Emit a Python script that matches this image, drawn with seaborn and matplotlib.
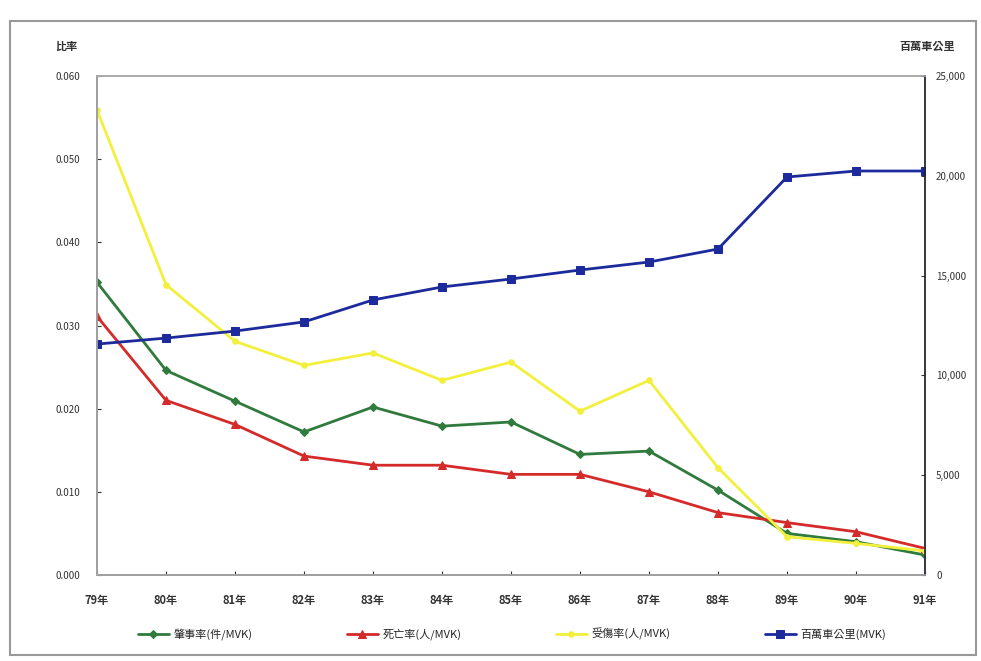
import matplotlib
matplotlib.use("Agg")
import matplotlib.pyplot as plt
import seaborn as sns
import pandas as pd
import numpy as np
from matplotlib.patches import Rectangle
from matplotlib.ticker import FuncFormatter

years = ["79", "80", "81", "82", "83", "84", "85", "86", "87", "88", "89", "90", "91"]
accident_rate = [0.0352, 0.0246, 0.0209, 0.0172, 0.0202, 0.0179, 0.0184, 0.0145, 0.0149, 0.0102, 0.0050, 0.0040, 0.0024]
death_rate = [0.0311, 0.0210, 0.0181, 0.0143, 0.0132, 0.0132, 0.0121, 0.0121, 0.0100, 0.0075, 0.0063, 0.0052, 0.0032]
injury_rate = [0.0559, 0.0349, 0.0281, 0.0252, 0.0267, 0.0234, 0.0256, 0.0197, 0.0234, 0.0129, 0.0046, 0.0038, 0.0029]
mvk = [11570, 11870, 12220, 12680, 13780, 14430, 14830, 15280, 15680, 16330, 19940, 20240, 20240]

labels = ["肇事率(件/MVK)", "死亡率(人/MVK)", "受傷率(人/MVK)", "百萬車公里(MVK)"]
colors = ["#2f7a3c", "#d42a2a", "#f2f03c", "#1c2a9c"]
markers = ["D", "^", "o", "s"]

sns.set_style("white")
plt.rcParams['font.family'] = ['Noto Sans CJK TC', 'DejaVu Sans']

fig = plt.figure(figsize=(9.81, 6.61), dpi=100)
ax = fig.add_axes([97/981, 86/661, (925-97)/981, (575-76)/661])
ax2 = ax.twinx()

x = np.arange(len(years))
df = pd.DataFrame({"x": x, "acc": accident_rate, "death": death_rate, "inj": injury_rate, "mvk": mvk})

for col, lab, c, m, ms in zip(["acc", "death", "inj"], labels[:3], colors[:3], markers[:3], [4.5, 6, 4]):
    sns.lineplot(data=df, x="x", y=col, ax=ax, color=c, marker=m, markersize=ms,
                 markeredgecolor=c, linewidth=2, label=lab, legend=False)
sns.lineplot(data=df, x="x", y="mvk", ax=ax2, color=colors[3], marker="s", markersize=6,
             markeredgecolor=colors[3], linewidth=2, label=labels[3], legend=False)

ax.set_xlim(0, 12)
ax.set_ylim(0, 0.06)
ax2.set_ylim(0, 25000)
ax.set_yticks(np.arange(0, 0.0601, 0.01))
ax2.set_yticks(np.arange(0, 25001, 5000))
ax.yaxis.set_major_formatter(FuncFormatter(lambda v, p: f"{v:.3f}"))
ax2.yaxis.set_major_formatter(FuncFormatter(lambda v, p: f"{int(v):,}"))
ax.set_xticks(x)
ax.set_xticklabels([f"{y}年" for y in years])
ax.set_xlabel("")
ax.set_ylabel("")
ax2.set_ylabel("")

for a in (ax, ax2):
    for s in a.spines.values():
        s.set_color("#aaaaaa")
        s.set_linewidth(1.2)
ax.spines["left"].set_color("#555566")
ax2.spines["right"].set_color("#222233")
ax.spines["bottom"].set_color("#555555")

ax.tick_params(axis="y", which="both", left=True, length=3, direction="in", labelsize=7, colors="#333333", pad=12)
ax2.tick_params(axis="y", which="both", right=True, length=3, direction="in", labelsize=7, colors="#333333", pad=8)
ax.tick_params(axis="x", bottom=True, length=3, direction="in", labelsize=8, colors="#333333", pad=14)
for t in ax.get_xticklabels():
    t.set_fontweight("bold")

fig.text(55/981, 1 - 46/661, "比率", fontsize=8, fontweight="bold", color="#333333", va="center")
fig.text(955/981, 1 - 46/661, "百萬車公里", fontsize=8, fontweight="bold", color="#333333", va="center", ha="right")

h1, l1 = ax.get_legend_handles_labels()
h2, l2 = ax2.get_legend_handles_labels()
fig.legend(h1 + h2, l1 + l2, loc="center", bbox_to_anchor=(512/981, 1 - 634/661), ncol=4,
           frameon=False, fontsize=8, columnspacing=8.5, handlelength=2.8, handletextpad=0.4)

fig.patches.append(Rectangle((10/981, 6/661), 966/981, 634/661, transform=fig.transFigure,
                             fill=False, edgecolor="#999999", linewidth=1.5))

fig.savefig("out.png", dpi=100, facecolor="white")
